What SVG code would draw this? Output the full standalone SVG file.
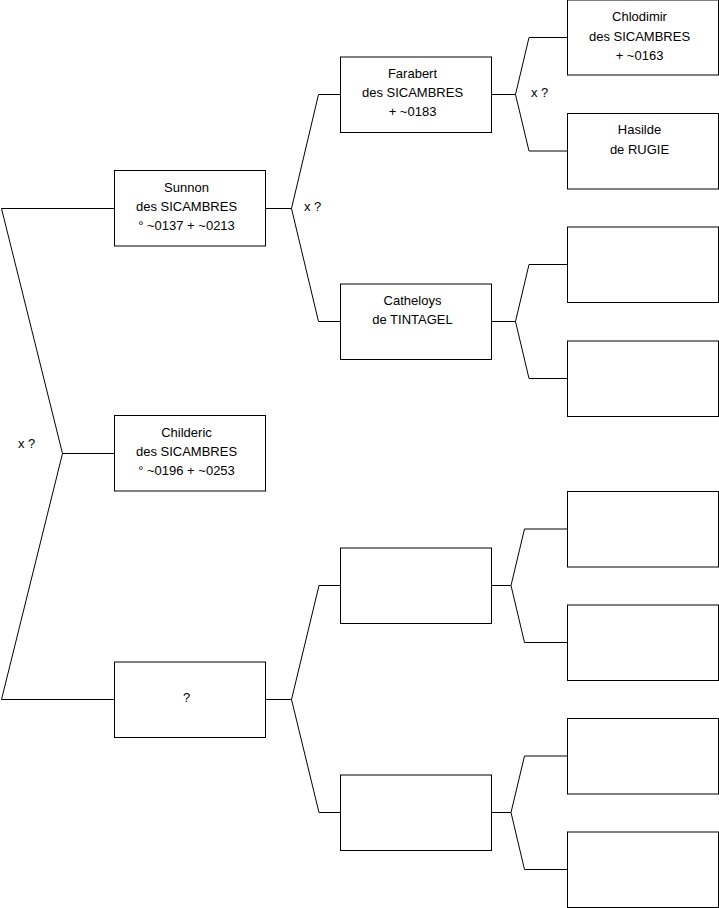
<svg xmlns="http://www.w3.org/2000/svg" width="719" height="908" viewBox="0 0 719 908">
<style>
  .box { fill: #fff; stroke: #000; stroke-width: 1; }
  .t { font-family: "Liberation Sans", Arial, sans-serif; font-size: 13px; fill: #000; text-anchor: middle; }
  .lbl { font-family: "Liberation Sans", Arial, sans-serif; font-size: 13px; fill: #000; }
  .conn { fill: none; stroke: #000; stroke-width: 1; }
</style>
<rect width="719" height="908" fill="#fff"/>
<g id="connectors">
  <path class="conn" d="M114.5,208.5 H1.5 L62.5,453.5 L1.5,699.5 H114.5 M62.5,453.5 H114.5"/>
  <path class="conn" d="M265.5,208.5 H291.5 M340.5,94.5 H318.5 L291.5,208.5 L318.5,321.5 H340.5"/>
  <path class="conn" d="M265.5,699.5 H291.5 M340.5,585.5 H319 L291.5,699.5 L319,812.5 H340.5"/>
  <path class="conn" d="M491.5,94.5 H515.5 M567.5,37.5 H529 L515.5,94.5 L529,151 H567.5"/>
  <path class="conn" d="M491.5,321.5 H515.5 M567.5,264.5 H529 L515.5,321.5 L529,378.5 H567.5"/>
  <path class="conn" d="M491.5,585.5 H511 M567.5,529 H524.5 L511,585.5 L524.5,642.5 H567.5"/>
  <path class="conn" d="M491.5,812.5 H511 M567.5,756 H524.5 L511,812.5 L524.5,869.5 H567.5"/>
  <text class="lbl" x="304" y="211">x ?</text>
  <text class="lbl" x="531" y="97">x ?</text>
  <text class="lbl" x="18" y="448">x ?</text>
</g>
<g id="sunnon">
  <rect class="box" x="114.5" y="170.5" width="151" height="75.5"/>
  <text class="t" x="186.5" y="191.5">Sunnon</text>
  <text class="t" x="186.5" y="211">des SICAMBRES</text>
  <text class="t" x="186.5" y="230">° ~0137 + ~0213</text>
</g>
<g id="childeric">
  <rect class="box" x="114.5" y="415.5" width="151" height="75.5"/>
  <text class="t" x="186.5" y="436.5">Childeric</text>
  <text class="t" x="186.5" y="456">des SICAMBRES</text>
  <text class="t" x="186.5" y="475">° ~0196 + ~0253</text>
</g>
<g id="unknown">
  <rect class="box" x="114.5" y="662" width="151" height="75.5"/>
  <text class="t" x="186.5" y="702">?</text>
</g>
<g id="farabert">
  <rect class="box" x="340.5" y="57" width="151" height="75.5"/>
  <text class="t" x="412.5" y="77.5">Farabert</text>
  <text class="t" x="412.5" y="97">des SICAMBRES</text>
  <text class="t" x="412.5" y="116">+ ~0183</text>
</g>
<g id="catheloys">
  <rect class="box" x="340.5" y="284" width="151" height="75.5"/>
  <text class="t" x="412.5" y="304.5">Catheloys</text>
  <text class="t" x="412.5" y="324">de TINTAGEL</text>
</g>
<g id="l2-empty1">
  <rect class="box" x="340.5" y="548" width="151" height="75.5"/>
</g>
<g id="l2-empty2">
  <rect class="box" x="340.5" y="775" width="151" height="75.5"/>
</g>
<g id="chlodimir">
  <rect class="box" x="567.5" y="0" width="151" height="75"/>
  <text class="t" x="639.5" y="20.5">Chlodimir</text>
  <text class="t" x="639.5" y="40.5">des SICAMBRES</text>
  <text class="t" x="639.5" y="60">+ ~0163</text>
</g>
<g id="hasilde">
  <rect class="box" x="567.5" y="113.5" width="151" height="75.5"/>
  <text class="t" x="639.5" y="134">Hasilde</text>
  <text class="t" x="639.5" y="153.5">de RUGIE</text>
</g>
<g id="l3-empty1"><rect class="box" x="567.5" y="227" width="151" height="75.5"/></g>
<g id="l3-empty2"><rect class="box" x="567.5" y="341" width="151" height="75.5"/></g>
<g id="l3-empty3"><rect class="box" x="567.5" y="491.5" width="151" height="75.5"/></g>
<g id="l3-empty4"><rect class="box" x="567.5" y="605" width="151" height="75.5"/></g>
<g id="l3-empty5"><rect class="box" x="567.5" y="718.5" width="151" height="75.5"/></g>
<g id="l3-empty6"><rect class="box" x="567.5" y="832" width="151" height="75.5"/></g>
</svg>
